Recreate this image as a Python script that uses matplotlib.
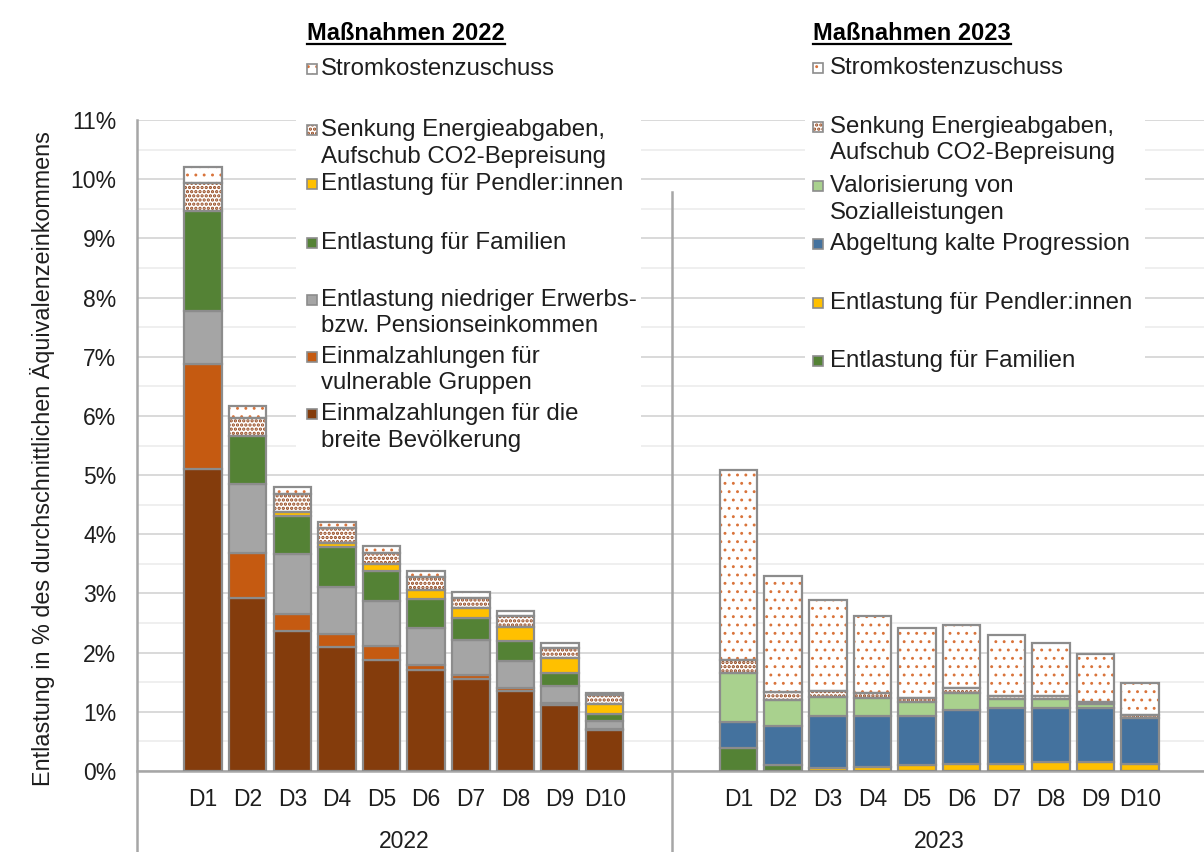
import matplotlib
matplotlib.use("Agg")
import matplotlib.pyplot as plt
from matplotlib.patches import Rectangle
from matplotlib.lines import Line2D

plt.rcParams["font.family"] = ["Liberation Sans", "DejaVu Sans"]

# --- data (share of average equivalised income, %) ---
deciles = ["D1", "D2", "D3", "D4", "D5", "D6", "D7", "D8", "D9", "D10"]
years = ["2022", "2023"]

# 2022 measures, bottom to top
breite_22 = [5.10, 2.93, 2.37, 2.09, 1.88, 1.71, 1.55, 1.36, 1.12, 0.70]
vulnerable_22 = [1.78, 0.75, 0.29, 0.22, 0.23, 0.08, 0.08, 0.05, 0.03, 0.01]
niedrig_22 = [0.89, 1.17, 1.01, 0.80, 0.77, 0.63, 0.58, 0.45, 0.29, 0.14]
familien_22 = [1.69, 0.81, 0.64, 0.68, 0.50, 0.48, 0.37, 0.34, 0.21, 0.12]
pendler_22 = [0.00, 0.00, 0.06, 0.07, 0.12, 0.16, 0.17, 0.24, 0.26, 0.17]
senkung_22 = [0.47, 0.31, 0.31, 0.24, 0.19, 0.22, 0.18, 0.18, 0.17, 0.14]
strom_22 = [0.28, 0.19, 0.12, 0.10, 0.11, 0.10, 0.10, 0.08, 0.08, 0.04]

# 2023 measures, bottom to top
familien_23 = [0.39, 0.10, 0.00, 0.00, 0.00, 0.00, 0.00, 0.00, 0.00, 0.00]
pendler_23 = [0.00, 0.00, 0.05, 0.06, 0.10, 0.12, 0.11, 0.16, 0.16, 0.12]
progression_23 = [0.44, 0.66, 0.88, 0.87, 0.83, 0.91, 0.96, 0.91, 0.90, 0.77]
valorisierung_23 = [0.83, 0.44, 0.32, 0.30, 0.23, 0.29, 0.14, 0.14, 0.07, 0.00]
senkung_23 = [0.22, 0.14, 0.11, 0.08, 0.07, 0.08, 0.06, 0.06, 0.04, 0.06]
strom_23 = [3.21, 1.95, 1.53, 1.31, 1.18, 1.07, 1.03, 0.90, 0.80, 0.54]

labels_22 = [
    "Stromkostenzuschuss",
    "Senkung Energieabgaben,\nAufschub CO2-Bepreisung",
    "Entlastung für Pendler:innen",
    "Entlastung für Familien",
    "Entlastung niedriger Erwerbs-\nbzw. Pensionseinkommen",
    "Einmalzahlungen für\nvulnerable Gruppen",
    "Einmalzahlungen für die\nbreite Bevölkerung",
]
labels_23 = [
    "Stromkostenzuschuss",
    "Senkung Energieabgaben,\nAufschub CO2-Bepreisung",
    "Valorisierung von\nSozialleistungen",
    "Abgeltung kalte Progression",
    "Entlastung für Pendler:innen",
    "Entlastung für Familien",
]

# --- styles ---
EDGE = "#8C8C8C"
TXT = "#1e1e1e"
C_BREITE = "#843C0C"
C_VULN = "#C55A11"
C_NIEDRIG = "#A5A5A5"
C_FAM = "#548235"
C_PEND = "#FFC000"
C_BLUE = "#44729E"
C_VALOR = "#A9D18E"
STROM = dict(face="white", hatch="..", hcolor="#D9733A", hlw=0.9)
SENK = dict(face="white", hatch="....", hcolor="#94451A", hlw=1.6)

series_22 = [
    (breite_22, C_BREITE), (vulnerable_22, C_VULN), (niedrig_22, C_NIEDRIG),
    (familien_22, C_FAM), (pendler_22, C_PEND), (senkung_22, SENK), (strom_22, STROM),
]
series_23 = [
    (familien_23, C_FAM), (pendler_23, C_PEND), (progression_23, C_BLUE),
    (valorisierung_23, C_VALOR), (senkung_23, SENK), (strom_23, STROM),
]

W, H = 1204, 852
fig = plt.figure(figsize=(W / 100, H / 100), dpi=100)
ax = fig.add_axes([137 / W, 81 / H, 1067 / W, 651 / H])

width = 0.84


def draw_stack(positions, series):
    bottoms = [0.0] * len(positions)
    for values, style in series:
        for i, (x, v) in enumerate(zip(positions, values)):
            if v <= 0:
                continue
            if isinstance(style, dict):
                with plt.rc_context({"hatch.color": style["hcolor"], "hatch.linewidth": style["hlw"]}):
                    ax.bar(x, v, bottom=bottoms[i], width=width, color=style["face"],
                           edgecolor=style["hcolor"], linewidth=0, hatch=style["hatch"], zorder=2)
                ax.bar(x, v, bottom=bottoms[i], width=width, fill=False,
                       edgecolor=EDGE, linewidth=1.6, zorder=3)
            else:
                ax.bar(x, v, bottom=bottoms[i], width=width, color=style,
                       edgecolor=EDGE, linewidth=1.6, zorder=3)
            bottoms[i] += v


pos_22 = list(range(10))
pos_23 = [p + 12 for p in range(10)]
draw_stack(pos_22, series_22)
draw_stack(pos_23, series_23)

ax.set_xlim(-1.48, 22.43)
ax.set_ylim(0, 11)
ax.set_yticks(range(0, 12))
ax.set_yticklabels([f"{v}%" for v in range(0, 12)], fontsize=16.5, color=TXT)
ax.set_yticks([v + 0.5 for v in range(0, 11)], minor=True)
ax.tick_params(axis="y", which="both", length=0, pad=15)
ax.set_xticks(pos_22 + pos_23)
ax.set_xticklabels(deciles + deciles, fontsize=16.5, color=TXT)
ax.tick_params(axis="x", length=0, pad=12)
ax.set_axisbelow(True)
ax.grid(axis="y", which="major", color="#D9D9D9", linewidth=1.4)
ax.grid(axis="y", which="minor", color="#EFEFEF", linewidth=1.4)

for side in ["top", "right", "left"]:
    ax.spines[side].set_visible(False)
ax.spines["bottom"].set_color("#A6A6A6")
ax.spines["bottom"].set_linewidth(1.8)

ax.plot([0, 0], [11, -1.4], transform=ax.get_yaxis_transform(), color="#A6A6A6",
        linewidth=1.8, clip_on=False, zorder=4)
ax.plot([10.5, 10.5], [9.78, -1.4], color="#A6A6A6", linewidth=1.8, clip_on=False, zorder=4)

for x, yr in zip([4.5, 16.5], years):
    ax.text(x, -0.109, yr, transform=ax.get_xaxis_transform(), ha="center", va="center",
            fontsize=16.5, color=TXT)

ax.set_ylabel("Entlastung in % des durchschnittlichen Äquivalenzeinkommens", fontsize=16.8, color=TXT)
ax.yaxis.set_label_coords(-0.077, 0.48)

# --- legend boxes (white, hide the grid) ---
for x0, x1, y1 in [(296, 641, 462), (805, 1145, 384)]:
    ax.add_patch(Rectangle((x0 / W, 1 - y1 / H), (x1 - x0) / W, (y1 - 10) / H,
                           transform=fig.transFigure, facecolor="white", edgecolor="none", zorder=1))


def fx(x):
    return x / W


def fy(y):
    return 1 - y / H


def legend_block(title, x_sq, x_txt, rows, labels, styles):
    t = fig.text(fx(x_sq), fy(33), title, fontsize=17, fontweight="bold", color="black",
                 ha="left", va="center")
    fig.canvas.draw()
    bb = t.get_window_extent()
    fig.add_artist(Line2D([bb.x0 / W, bb.x1 / W], [fy(44), fy(44)], transform=fig.transFigure,
                          color="black", linewidth=1.6))
    for y, label, style in zip(rows, labels, styles):
        if isinstance(style, dict):
            with plt.rc_context({"hatch.color": style["hcolor"], "hatch.linewidth": style["hlw"]}):
                fig.add_artist(Rectangle((fx(x_sq), fy(y + 5)), 10 / W, 10 / H,
                                         transform=fig.transFigure, facecolor="white",
                                         edgecolor=style["hcolor"], linewidth=0, hatch=style["hatch"]))
            fig.add_artist(Rectangle((fx(x_sq), fy(y + 5)), 10 / W, 10 / H, transform=fig.transFigure,
                                     fill=False, edgecolor=EDGE, linewidth=1.2))
        else:
            fig.add_artist(Rectangle((fx(x_sq), fy(y + 5)), 10 / W, 10 / H, transform=fig.transFigure,
                                     facecolor=style, edgecolor=EDGE, linewidth=1.2))
        for k, line in enumerate(label.split("\n")):
            fig.text(fx(x_txt), fy(y + k * 26.5), line, fontsize=17.3, color=TXT, ha="left", va="center")


legend_block("Maßnahmen 2022", 307, 321, [69, 130, 184, 243, 300, 357, 414], labels_22,
             [STROM, SENK, C_PEND, C_FAM, C_NIEDRIG, C_VULN, C_BREITE])
legend_block("Maßnahmen 2023", 813, 830, [68, 127, 186, 244, 303, 361], labels_23,
             [STROM, SENK, C_VALOR, C_BLUE, C_PEND, C_FAM])

fig.savefig("out.png", dpi=100)
